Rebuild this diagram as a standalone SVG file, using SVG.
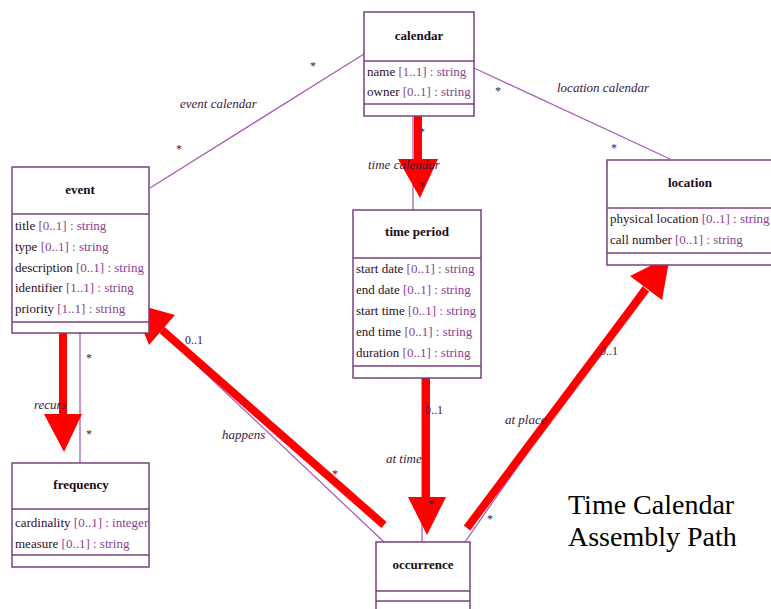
<svg xmlns="http://www.w3.org/2000/svg" width="771" height="609" viewBox="0 0 771 609">
  <style>
    .box { fill: #ffffff; stroke: #7a3f7f; stroke-width: 1.5; }
    .sep { stroke: #7a3f7f; stroke-width: 1.5; }
    .name { font-family: "Liberation Serif", "Times New Roman", serif; font-size: 13px; font-weight: bold; fill: #1a0a1a; text-anchor: middle; }
    .attr { font-family: "Liberation Serif", "Times New Roman", serif; font-size: 13px; fill: #2a102a; }
    .mult { fill: #8a3f8f; }
    .assoc { stroke: #a860b8; stroke-width: 1.3; fill: none; }
    .lbl { font-family: "Liberation Serif", "Times New Roman", serif; font-size: 13px; font-style: italic; fill: #3a1a40; }
    .card { font-family: "Liberation Serif", "Times New Roman", serif; font-size: 12px; fill: #3a1a40; }
    .path { stroke: #ff0000; stroke-width: 8; fill: none; }
    .head { fill: #ff0000; }
    .title { font-family: "Liberation Serif", "Times New Roman", serif; font-size: 28px; fill: #000000; }
  </style>

  <rect width="771" height="609" fill="#ffffff"/>

  <!-- association lines -->
  <g id="connectors">
    <line class="assoc" x1="150" y1="188" x2="364" y2="54"/>
    <line class="assoc" x1="474" y1="68" x2="670" y2="159"/>
    <line class="assoc" x1="413" y1="116" x2="413" y2="210"/>
    <line class="assoc" x1="80" y1="333" x2="80" y2="463"/>
    <line class="assoc" x1="147" y1="318" x2="384" y2="542"/>
    <line class="assoc" x1="422" y1="378" x2="422" y2="542"/>
    <line class="assoc" x1="658" y1="265" x2="465" y2="542"/>
  </g>

  <!-- highlighted assembly path -->
  <g id="assembly-path">
    <line class="path" x1="418" y1="104" x2="418" y2="161"/>
    <polygon class="head" points="398,159 438,159 420,198"/>

    <line class="path" x1="63" y1="330" x2="63" y2="416"/>
    <polygon class="head" points="44,414 82,414 64,452"/>

    <line class="path" x1="426" y1="370" x2="426" y2="499"/>
    <polygon class="head" points="408,497 446,497 427,535"/>

    <line class="path" x1="384" y1="525" x2="162" y2="330"/>
    <polygon class="head" points="132,303 175,315 149,345"/>

    <line class="path" x1="467" y1="528" x2="646" y2="289"/>
    <polygon class="head" points="670,256 662,300 630,276"/>
  </g>

  <!-- role names and multiplicities -->
  <g id="connector-labels">
    <text class="card" x="310" y="70">*</text>
    <text class="card" x="176" y="153">*</text>
    <text class="lbl" x="180" y="108">event calendar</text>

    <text class="card" x="495" y="95">*</text>
    <text class="card" x="611" y="152">*</text>
    <text class="lbl" x="557" y="92">location calendar</text>

    <text class="card" x="419" y="136">*</text>
    <text class="card" x="419" y="190">*</text>
    <text class="lbl" x="368" y="169">time calendar</text>

    <text class="card" x="86" y="362">*</text>
    <text class="card" x="86" y="438">*</text>
    <text class="lbl" x="34" y="409">recurs</text>

    <text class="card" x="185" y="344">0..1</text>
    <text class="lbl" x="222" y="439">happens</text>
    <text class="card" x="332" y="478">*</text>

    <text class="card" x="425" y="414">0..1</text>
    <text class="lbl" x="386" y="463">at time</text>
    <text class="card" x="428" y="508">*</text>

    <text class="lbl" x="505" y="424">at place</text>
    <text class="card" x="600" y="355">0..1</text>
    <text class="card" x="487" y="523">*</text>
  </g>

  <g id="calendar">
    <rect class="box" x="364" y="12" width="110" height="104"/>
    <line class="sep" x1="364" y1="61" x2="474" y2="61"/>
    <line class="sep" x1="364" y1="104" x2="474" y2="104"/>
    <text class="name" x="419" y="40">calendar</text>
    <text class="attr" x="367" y="76">name <tspan class="mult">[1..1] : string</tspan></text>
    <text class="attr" x="367" y="96">owner <tspan class="mult">[0..1] : string</tspan></text>
  </g>

  <g id="event">
    <rect class="box" x="12" y="167" width="137" height="166"/>
    <line class="sep" x1="12" y1="214" x2="149" y2="214"/>
    <line class="sep" x1="12" y1="322" x2="149" y2="322"/>
    <text class="name" x="80" y="194">event</text>
    <text class="attr" x="15" y="230">title <tspan class="mult">[0..1] : string</tspan></text>
    <text class="attr" x="15" y="251">type <tspan class="mult">[0..1] : string</tspan></text>
    <text class="attr" x="15" y="272">description <tspan class="mult">[0..1] : string</tspan></text>
    <text class="attr" x="15" y="292">identifier <tspan class="mult">[1..1] : string</tspan></text>
    <text class="attr" x="15" y="313">priority <tspan class="mult">[1..1] : string</tspan></text>
  </g>

  <g id="time-period">
    <rect class="box" x="353" y="210" width="128" height="168"/>
    <line class="sep" x1="353" y1="258" x2="481" y2="258"/>
    <line class="sep" x1="353" y1="366" x2="481" y2="366"/>
    <text class="name" x="417" y="236">time period</text>
    <text class="attr" x="356" y="273">start date <tspan class="mult">[0..1] : string</tspan></text>
    <text class="attr" x="356" y="294">end date <tspan class="mult">[0..1] : string</tspan></text>
    <text class="attr" x="356" y="315">start time <tspan class="mult">[0..1] : string</tspan></text>
    <text class="attr" x="356" y="336">end time <tspan class="mult">[0..1] : string</tspan></text>
    <text class="attr" x="356" y="357">duration <tspan class="mult">[0..1] : string</tspan></text>
  </g>

  <g id="location">
    <rect class="box" x="607" y="160" width="170" height="105"/>
    <line class="sep" x1="607" y1="208" x2="777" y2="208"/>
    <line class="sep" x1="607" y1="253" x2="777" y2="253"/>
    <text class="name" x="690" y="187">location</text>
    <text class="attr" x="610" y="223">physical location <tspan class="mult">[0..1] : string</tspan></text>
    <text class="attr" x="610" y="244">call number <tspan class="mult">[0..1] : string</tspan></text>
  </g>

  <g id="frequency">
    <rect class="box" x="12" y="463" width="137" height="104"/>
    <line class="sep" x1="12" y1="509" x2="149" y2="509"/>
    <line class="sep" x1="12" y1="555" x2="149" y2="555"/>
    <text class="name" x="81" y="489">frequency</text>
    <text class="attr" x="15" y="527">cardinality <tspan class="mult">[0..1] : integer</tspan></text>
    <text class="attr" x="15" y="548">measure <tspan class="mult">[0..1] : string</tspan></text>
  </g>

  <g id="occurrence">
    <rect class="box" x="376" y="542" width="94" height="80"/>
    <line class="sep" x1="376" y1="591" x2="470" y2="591"/>
    <line class="sep" x1="376" y1="601" x2="470" y2="601"/>
    <text class="name" x="423" y="569">occurrence</text>
  </g>

  <g id="caption">
    <text class="title" x="568" y="514">Time Calendar</text>
    <text class="title" x="568" y="546">Assembly Path</text>
  </g>
</svg>
